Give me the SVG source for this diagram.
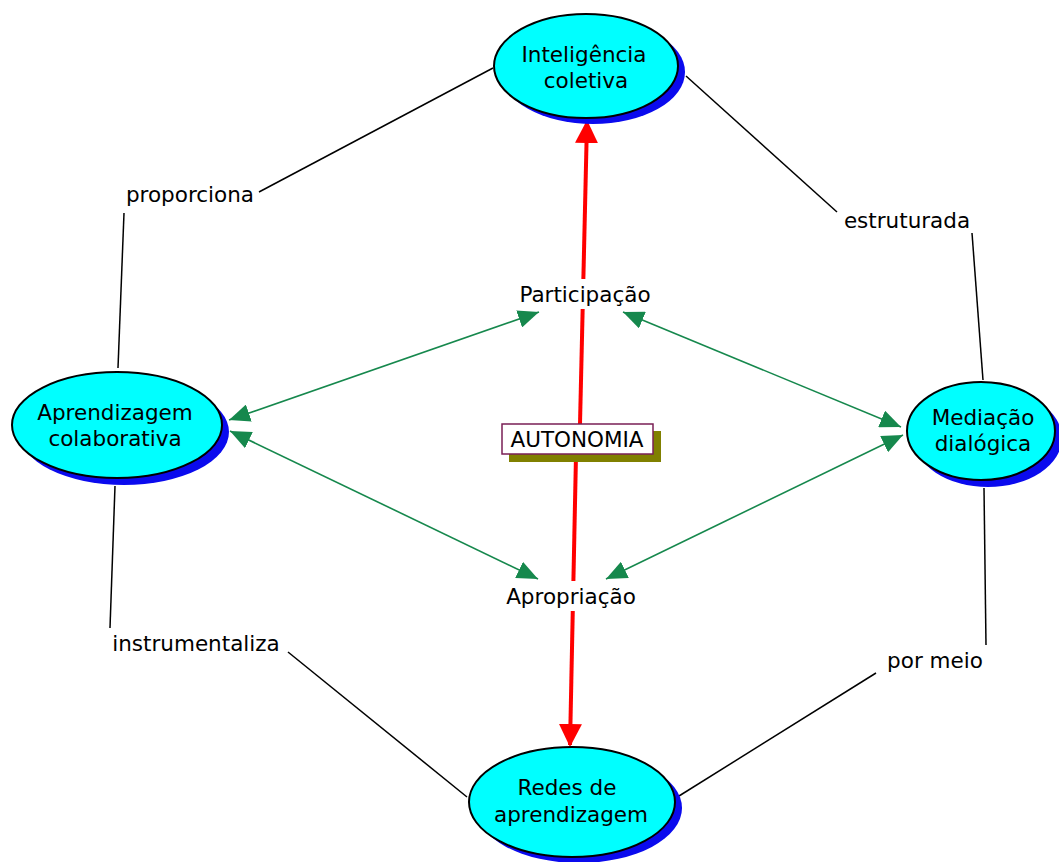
<svg xmlns="http://www.w3.org/2000/svg" width="1059" height="862" viewBox="0 0 1059 862">
  <style>
    text { font-family: "DejaVu Sans", Verdana, sans-serif; font-size: 21.5px; fill: #000; text-anchor: middle; }
    .shadow { fill: #0a0aee; }
    .node { fill: #00ffff; stroke: #000; stroke-width: 2; }
    .link { stroke: #000; stroke-width: 1.5; fill: none; }
    .mutual { stroke: #16884d; stroke-width: 1.6; fill: none; marker-start: url(#greenHead); marker-end: url(#greenHead); }
    .strong { stroke: #ff0000; stroke-width: 4; fill: none; marker-end: url(#redHead); }
    .labelbg { fill: #fff; }
  </style>
  <defs>
    <marker id="greenHead" viewBox="0 0 21 18" refX="21" refY="9" markerWidth="21" markerHeight="18" markerUnits="userSpaceOnUse" orient="auto-start-reverse">
      <path d="M0,0 L21,9 L0,18 z" fill="#16884d"/>
    </marker>
    <marker id="redHead" viewBox="0 0 23 23" refX="21" refY="11.5" markerWidth="23" markerHeight="23" markerUnits="userSpaceOnUse" orient="auto">
      <path d="M0,0 L23,11.5 L0,23 z" fill="#ff0000"/>
    </marker>
  </defs>
  <rect width="1059" height="862" fill="#fff"/>

  <!-- connectors -->
  <g id="connectors">
    <line class="link" x1="493" y1="68" x2="259" y2="192"/>
    <line class="link" x1="124" y1="213" x2="118" y2="368"/>
    <line class="link" x1="686" y1="76" x2="837" y2="212"/>
    <line class="link" x1="972" y1="233" x2="983" y2="380"/>
    <line class="link" x1="115" y1="486" x2="110" y2="628"/>
    <line class="link" x1="288" y1="652" x2="467" y2="797"/>
    <line class="link" x1="984" y1="488" x2="986" y2="645"/>
    <line class="link" x1="876" y1="673" x2="679" y2="796"/>

    <line class="mutual" x1="229" y1="420" x2="539" y2="312"/>
    <line class="mutual" x1="230" y1="431" x2="538" y2="579"/>
    <line class="mutual" x1="623" y1="312" x2="901" y2="427"/>
    <line class="mutual" x1="606" y1="579" x2="903" y2="435"/>

    <line class="strong" x1="580" y1="424" x2="587" y2="122"/>
    <line class="strong" x1="576" y1="455" x2="570" y2="745"/>
  </g>

  <!-- concepts -->
  <g id="inteligencia-coletiva">
    <ellipse class="shadow" cx="593" cy="72" rx="92" ry="52"/>
    <ellipse class="node" cx="586" cy="66" rx="92" ry="52"/>
    <text x="584" y="62">Inteligência</text>
    <text x="586" y="88">coletiva</text>
  </g>

  <g id="aprendizagem-colaborativa">
    <ellipse class="shadow" cx="124" cy="432" rx="105" ry="53"/>
    <ellipse class="node" cx="117" cy="425" rx="105" ry="53"/>
    <text x="115" y="420">Aprendizagem</text>
    <text x="115" y="446">colaborativa</text>
  </g>

  <g id="mediacao-dialogica">
    <ellipse class="shadow" cx="988" cy="438" rx="74" ry="49"/>
    <ellipse class="node" cx="981" cy="431" rx="74" ry="49"/>
    <text x="983" y="425">Mediação</text>
    <text x="983" y="451">dialógica</text>
  </g>

  <g id="redes-de-aprendizagem">
    <ellipse class="shadow" cx="579" cy="808" rx="103" ry="55"/>
    <ellipse class="node" cx="572" cy="802" rx="103" ry="55"/>
    <text x="567" y="795">Redes de</text>
    <text x="571" y="822">aprendizagem</text>
  </g>

  <!-- linking phrases -->
  <g id="proporciona"><text x="190" y="202">proporciona</text></g>
  <g id="estruturada"><text x="907" y="228">estruturada</text></g>
  <g id="instrumentaliza"><text x="196" y="651">instrumentaliza</text></g>
  <g id="por-meio"><text x="935" y="668">por meio</text></g>

  <g id="participacao">
    <rect class="labelbg" x="513" y="279" width="144" height="30"/>
    <text x="585" y="302">Participação</text>
  </g>

  <g id="apropriacao">
    <rect class="labelbg" x="500" y="581" width="142" height="30"/>
    <text x="571" y="604">Apropriação</text>
  </g>

  <g id="autonomia">
    <rect x="509" y="431" width="152" height="31" fill="#808000"/>
    <rect x="502" y="424" width="151" height="30" fill="#fff" stroke="#7a1f55" stroke-width="1.5"/>
    <text x="577" y="447">AUTONOMIA</text>
  </g>
</svg>
